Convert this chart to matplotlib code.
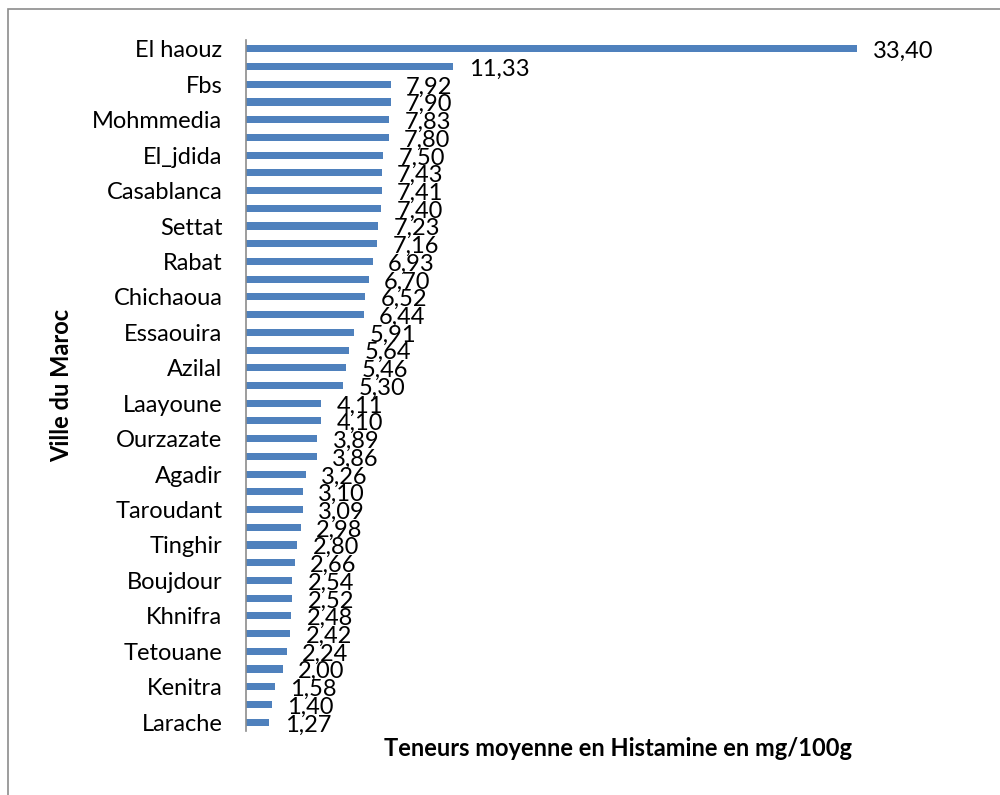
import matplotlib.pyplot as plt
from matplotlib.patches import Rectangle

# villes (une sur deux seulement est affichee sur l'axe)
villes = ['El haouz', '', 'Fbs', '', 'Mohmmedia', '', 'El_jdida', '', 'Casablanca', '',
          'Settat', '', 'Rabat', '', 'Chichaoua', '', 'Essaouira', '', 'Azilal', '',
          'Laayoune', '', 'Ourzazate', '', 'Agadir', '', 'Taroudant', '', 'Tinghir', '',
          'Boujdour', '', 'Khnifra', '', 'Tetouane', '', 'Kenitra', '', 'Larache']
teneurs = [33.40, 11.33, 7.92, 7.90, 7.83, 7.80, 7.50, 7.43, 7.41, 7.40,
           7.23, 7.16, 6.93, 6.70, 6.52, 6.44, 5.91, 5.64, 5.46, 5.30,
           4.11, 4.10, 3.89, 3.86, 3.26, 3.10, 3.09, 2.98, 2.80, 2.66,
           2.54, 2.52, 2.48, 2.42, 2.24, 2.00, 1.58, 1.40, 1.27]

plt.rcParams['font.family'] = ['Lato', 'DejaVu Sans']

fig = plt.figure(figsize=(10, 7.95), dpi=100)
# cadre gris autour du graphique
fig.patches.append(Rectangle((0.008, -0.2), 1.2, 1.2 - 9/795, transform=fig.transFigure,
                             fill=False, edgecolor='#8c8c8c', linewidth=1.2))

ax = fig.add_axes([0.246, 0.0805, 0.684, 0.8692])
pos = list(range(len(teneurs)))
ax.barh(pos, teneurs, height=0.4, color='#4F81BD')
ax.set_ylim(len(teneurs) - 0.5, -0.5)
ax.set_xlim(0, 0.684 * 1000 / 18.3)

for p, v in zip(pos, teneurs):
    ax.annotate(('%.2f' % v).replace('.', ','), (v, p), xytext=(11, -2),
                textcoords='offset points', ha='left', va='center', fontsize=17)

ax.set_yticks(pos)
ax.set_yticklabels(villes, fontsize=17)
ax.tick_params(axis='y', length=0, pad=17)
ax.set_xticks([])
for s in ['top', 'right', 'bottom']:
    ax.spines[s].set_visible(False)
ax.spines['left'].set_color('#8c8c8c')
ax.spines['left'].set_linewidth(1.2)

fig.text(0.618, 1 - 749/795, 'Teneurs moyenne en Histamine en mg/100g', ha='center',
         va='center', fontsize=17, fontweight='bold')
fig.text(0.062, 1 - 385/795, 'Ville du Maroc', ha='center', va='center', rotation=90,
         fontsize=17, fontweight='bold')

plt.savefig('out.png', dpi=100)
